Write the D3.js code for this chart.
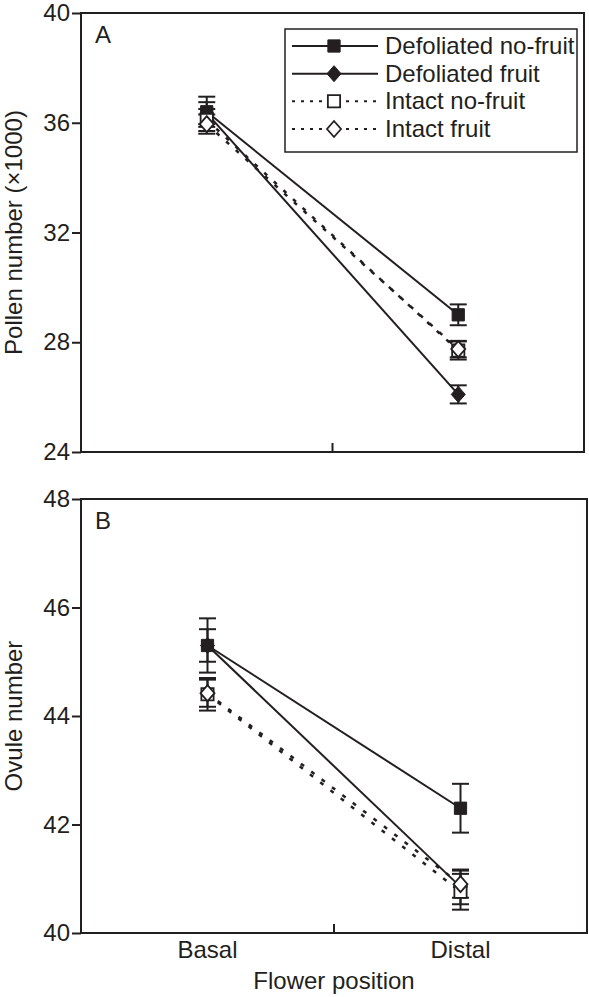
<!DOCTYPE html>
<html>
<head>
<meta charset="utf-8">
<script src="https://cdn.jsdelivr.net/npm/d3@7/dist/d3.min.js"></script>
<style>
  html, body { margin: 0; padding: 0; background: #fff; }
  svg { display: block; }
  text { font-family: "Liberation Sans", Arial, Helvetica, sans-serif; fill: #231f20; }
</style>
</head>
<body>
<svg id="chart" width="589" height="997"></svg>
<script>
// ---------- Data ----------
const categories = ["Basal", "Distal"];
const seriesNames = ["Defoliated no-fruit", "Defoliated fruit", "Intact no-fruit", "Intact fruit"];

// Panel A: pollen number (x1000)
const pollenTicks = [24, 28, 32, 36, 40];
const pollenDefNoFruit = [36.4, 29.0];
const pollenDefNoFruitErr = [0.55, 0.38];
const pollenDefFruit = [36.35, 26.1];
const pollenDefFruitErr = [0.4, 0.33];
const pollenIntNoFruit = [36.1, 27.7];
const pollenIntNoFruitErr = [0.4, 0.33];
const pollenIntFruit = [35.95, 27.75];
const pollenIntFruitErr = [0.35, 0.3];

// Panel B: ovule number
const ovuleTicks = [40, 42, 44, 46, 48];
const ovuleDefNoFruit = [45.3, 42.3];
const ovuleDefNoFruitErr = [0.5, 0.45];
const ovuleDefFruit = [45.3, 40.85];
const ovuleDefFruitErr = [0.3, 0.32];
const ovuleIntNoFruit = [44.4, 40.76];
const ovuleIntNoFruitErr = [0.3, 0.33];
const ovuleIntFruit = [44.42, 40.9];
const ovuleIntFruitErr = [0.25, 0.25];

// ---------- Styles ----------
const ink = "#231f20";
const FS = 24;
const seriesStyle = [
  { shape: "square",  filled: true,  dash: null, legDash: null },
  { shape: "diamond", filled: true,  dash: null, legDash: null },
  { shape: "square",  filled: false, dash: "4,9", legDash: "3,6" },
  { shape: "diamond", filled: false, dash: "4,9", legDash: "3,6" }
];

const svg = d3.select("#chart");

function markerPath(shape) {
  if (shape === "square") return d3.symbol().type(d3.symbolSquare).size(150)();
  return "M0,-8L7,0L0,8L-7,0Z";
}

function drawPanel(opt) {
  const g = svg.append("g");
  const x = d3.scaleBand().domain(categories).range([opt.left, opt.right]);
  const y = d3.scaleLinear().domain(opt.domain).range([opt.bottom, opt.top]);
  const cx = c => x(c) + x.bandwidth() / 2;

  // frame
  g.append("rect")
    .attr("x", opt.left).attr("y", opt.top)
    .attr("width", opt.right - opt.left).attr("height", opt.bottom - opt.top)
    .attr("fill", "none").attr("stroke", ink).attr("stroke-width", 2);

  // y axis
  const yAxis = d3.axisLeft(y).tickValues(opt.ticks).tickSize(9).tickPadding(2).tickFormat(d3.format("d"));
  const ya = g.append("g").attr("transform", `translate(${opt.left},0)`).call(yAxis);
  ya.select(".domain").remove();
  ya.selectAll(".tick line").attr("stroke", ink).attr("stroke-width", 2);
  ya.selectAll(".tick text").attr("font-size", FS).attr("fill", ink)
    .style("font-family", '"Liberation Sans", Arial, sans-serif');

  // x axis: category boundary tick (inside, pointing up)
  const xb = [x(categories[1])];
  g.selectAll(".xtick").data(xb).join("line")
    .attr("x1", d => d).attr("x2", d => d)
    .attr("y1", opt.bottom).attr("y2", opt.bottom - 9)
    .attr("stroke", ink).attr("stroke-width", 2);

  if (opt.showXLabels) {
    g.selectAll(".xlab").data(categories).join("text")
      .attr("x", d => cx(d)).attr("y", opt.bottom + 25)
      .attr("text-anchor", "middle").attr("font-size", FS).text(d => d);
  }

  // panel letter
  g.append("text").attr("x", opt.left + 14).attr("y", opt.top + 30)
    .attr("font-size", FS).text(opt.letter);

  // y title
  g.append("text")
    .attr("transform", `translate(22,${(opt.top + opt.bottom) / 2}) rotate(-90)`)
    .attr("text-anchor", "middle").attr("font-size", FS).text(opt.yTitle);

  // lines
  const line = d3.line().x(d => cx(d.c)).y(d => y(d.v));
  opt.series.forEach((s, i) => {
    const pts = categories.map((c, j) => ({ c, v: s.vals[j] }));
    g.append("path").attr("d", line(pts))
      .attr("fill", "none").attr("stroke", ink)
      .attr("stroke-width", seriesStyle[i].dash ? 2.5 : 2)
      .attr("stroke-dasharray", seriesStyle[i].dash);
  });

  // error bars
  opt.series.forEach((s, i) => {
    categories.forEach((c, j) => {
      const xc = cx(c), v = s.vals[j], e = s.errs[j];
      g.append("line").attr("x1", xc).attr("x2", xc)
        .attr("y1", y(v - e)).attr("y2", y(v + e))
        .attr("stroke", ink).attr("stroke-width", 2);
      [v - e, v + e].forEach(b => {
        g.append("line").attr("x1", xc - 8.5).attr("x2", xc + 8.5)
          .attr("y1", y(b)).attr("y2", y(b))
          .attr("stroke", ink).attr("stroke-width", 2);
      });
    });
  });

  // markers
  opt.series.forEach((s, i) => {
    const st = seriesStyle[i];
    categories.forEach((c, j) => {
      g.append("path").attr("d", markerPath(st.shape))
        .attr("transform", `translate(${cx(c)},${y(s.vals[j])})`)
        .attr("fill", st.filled ? ink : "#fff")
        .attr("stroke", ink).attr("stroke-width", st.filled ? 1 : 1.8);
    });
  });

  return g;
}

drawPanel({
  left: 81, right: 584, top: 13, bottom: 452,
  domain: [24, 40], ticks: pollenTicks, letter: "A",
  yTitle: "Pollen number (\u00d71000)", showXLabels: false,
  series: [
    { vals: pollenDefNoFruit, errs: pollenDefNoFruitErr },
    { vals: pollenDefFruit, errs: pollenDefFruitErr },
    { vals: pollenIntNoFruit, errs: pollenIntNoFruitErr },
    { vals: pollenIntFruit, errs: pollenIntFruitErr }
  ]
});

drawPanel({
  left: 81, right: 587, top: 499, bottom: 933,
  domain: [40, 48], ticks: ovuleTicks, letter: "B",
  yTitle: "Ovule number", showXLabels: true,
  series: [
    { vals: ovuleDefNoFruit, errs: ovuleDefNoFruitErr },
    { vals: ovuleDefFruit, errs: ovuleDefFruitErr },
    { vals: ovuleIntNoFruit, errs: ovuleIntNoFruitErr },
    { vals: ovuleIntFruit, errs: ovuleIntFruitErr }
  ]
});

// x title
svg.append("text").attr("x", 334).attr("y", 989).attr("text-anchor", "middle")
  .attr("font-size", FS).text("Flower position");

// legend (panel A)
const leg = svg.append("g");
leg.append("rect").attr("x", 285).attr("y", 29).attr("width", 292).attr("height", 123)
  .attr("fill", "#fff").attr("stroke", ink).attr("stroke-width", 1.5);
const legY = d3.scalePoint().domain(seriesNames).range([46, 129]);
seriesNames.forEach((name, i) => {
  const st = seriesStyle[i];
  const yy = legY(name);
  leg.append("line").attr("x1", 292).attr("x2", 378).attr("y1", yy).attr("y2", yy)
    .attr("stroke", ink).attr("stroke-width", 2).attr("stroke-dasharray", st.legDash);
  leg.append("path").attr("d", markerPath(st.shape))
    .attr("transform", `translate(334,${yy})`)
    .attr("fill", st.filled ? ink : "#fff")
    .attr("stroke", ink).attr("stroke-width", st.filled ? 1 : 1.8);
  leg.append("text").attr("x", 385).attr("y", yy + 8).attr("font-size", FS).text(name);
});
</script>
</body>
</html>
